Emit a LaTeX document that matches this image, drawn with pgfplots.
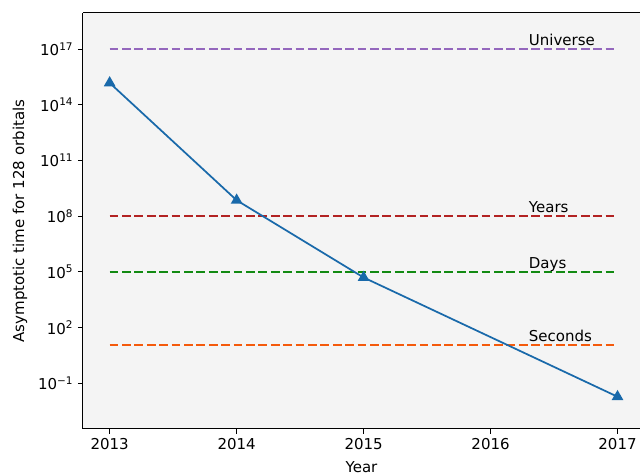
\documentclass[border=0pt]{standalone}
\usepackage{fontspec}
\setmainfont{DejaVu Sans}
\usepackage{pgfplots}
\pgfplotsset{compat=1.18}
\definecolor{bgc}{HTML}{F4F4F4}
\definecolor{cblue}{RGB}{25,105,170}
\definecolor{cpurple}{HTML}{9467BD}
\definecolor{cred}{HTML}{B22222}
\definecolor{cgreen}{HTML}{128A12}
\definecolor{corange}{HTML}{F45A0C}
\begin{document}
\begin{tikzpicture}[font=\fontsize{11.25}{13.5}\selectfont]
\begin{axis}[
  name=ax,
  scale only axis,
  width=417.75pt, height=312pt,
  ymode=log, log basis y=10,
  xmin=2012.79, xmax=2017.177,
  ymin=3.47e-4, ymax=8.7e18,
  axis y line*=left, axis x line*=box,
  axis line style={-, line width=0.75pt, black},
  xtick pos=lower, ytick pos=lower,
  tick align=outside,
  major tick length=3.75pt,
  tick style={black, line width=0.6pt},
  minor tick num=0,
  xtick={2013,2014,2015,2016,2017},
  xticklabels={2013,2014,2015,2016,2017},
  ytick={1e-1,1e2,1e5,1e8,1e11,1e14,1e17},
  yticklabels={10\textsuperscript{−1},10\textsuperscript{2},10\textsuperscript{5},10\textsuperscript{8},10\textsuperscript{11},10\textsuperscript{14},10\textsuperscript{17}},
  yminorticks=false,
  axis background/.style={fill=bgc},
  xlabel={Year},
  ylabel={Asymptotic time for 128 orbitals},
  x label style={at={(axis description cs:0.5,-0.0913)},anchor=center},
  y label style={at={(axis description cs:-0.1131,0.5)},anchor=center},
  clip=false,
]
\addplot[corange, dashed, line width=1.3pt, dash pattern=on 6.5pt off 2.8pt] coordinates {(2013,12) (2017,12)};
\addplot[cgreen, dashed, line width=1.3pt, dash pattern=on 6.5pt off 2.8pt] coordinates {(2013,1e5) (2017,1e5)};
\addplot[cred, dashed, line width=1.3pt, dash pattern=on 6.5pt off 2.8pt] coordinates {(2013,1e8) (2017,1e8)};
\addplot[cpurple, dashed, line width=1.3pt, dash pattern=on 6.5pt off 2.8pt] coordinates {(2013,1e17) (2017,1e17)};
\addplot[cblue, line width=1.3pt, mark=triangle*, mark size=3.8pt, mark options={solid, fill=cblue}] coordinates {(2013,1.5e15) (2014,7.2e8) (2015,5e4) (2017,1.9e-2)};
\node[anchor=base west, yshift=2.5pt, inner sep=0pt] at (axis cs:2016.3,1e17) {Universe};
\node[anchor=base west, yshift=2.5pt, inner sep=0pt] at (axis cs:2016.3,1e8) {Years};
\node[anchor=base west, yshift=2.5pt, inner sep=0pt] at (axis cs:2016.3,1e5) {Days};
\node[anchor=base west, yshift=2.5pt, inner sep=0pt] at (axis cs:2016.3,12) {Seconds};
\end{axis}
\pgfresetboundingbox
\path ([shift={(-62.25pt,-34.5pt)}]ax.south west) rectangle ([shift={(0pt,9.75pt)}]ax.north east);
\end{tikzpicture}
\end{document}
